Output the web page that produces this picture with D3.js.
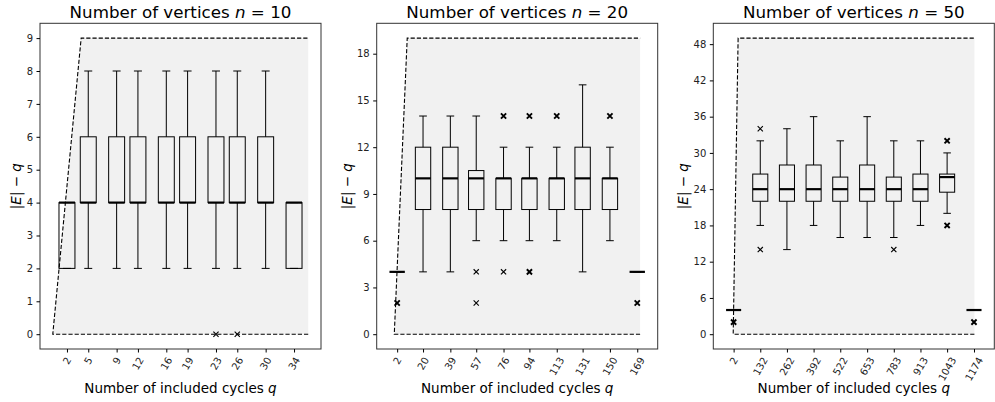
<!DOCTYPE html>
<html><head><meta charset="utf-8">
<script src="https://cdn.jsdelivr.net/npm/d3@7"></script>
<style>body{margin:0;background:#fff}svg{display:block;font-family:"DejaVu Sans",sans-serif}</style>
</head><body><svg id="c" width="995" height="402"></svg>
<script>
// ---------- data ----------
const vertexCounts = [10, 20, 50];

const qCats1 = [2, 5, 9, 12, 16, 19, 23, 26, 30, 34];
const qCats2 = [2, 20, 39, 57, 76, 94, 113, 131, 150, 169];
const qCats3 = [2, 132, 262, 392, 522, 653, 783, 913, 1043, 1174];

// [whisker low, Q1, median, Q3, whisker high]
const stats1 = [
  [2, 2, 4, 4, 4], [2, 4, 4, 6, 8], [2, 4, 4, 6, 8], [2, 4, 4, 6, 8], [2, 4, 4, 6, 8],
  [2, 4, 4, 6, 8], [2, 4, 4, 6, 8], [2, 4, 4, 6, 8], [2, 4, 4, 6, 8], [2, 2, 4, 4, 4]
];
const stats2 = [
  [4, 4, 4, 4, 4], [4, 8, 10, 12, 14], [4, 8, 10, 12, 14], [6, 8, 10, 10.5, 14], [6, 8, 10, 10, 12],
  [6, 8, 10, 10, 12], [6, 8, 10, 10, 12], [4, 8, 10, 12, 16], [6, 8, 10, 10, 12], [4, 4, 4, 4, 4]
];
const stats3 = [
  [4, 4, 4, 4, 4], [18, 22, 24, 26.5, 32], [14, 22, 24, 28, 34], [18, 22, 24, 28, 36], [16, 22, 24, 26, 32],
  [16, 22, 24, 28, 36], [16, 22, 24, 26, 32], [18, 22, 24, 26.5, 32], [20, 23.5, 26, 26.5, 30], [4, 4, 4, 4, 4]
];

// outliers: [value, number of coinciding samples]
const outliers1 = [[], [], [], [], [], [], [[0, 1]], [[0, 1]], [], []];
const outliers2 = [[[2, 3]], [], [], [[4, 1], [2, 1]], [[14, 3], [4, 1]], [[14, 3], [4, 2]], [[14, 3]], [], [[14, 3]], [[2, 3]]];
const outliers3 = [[[2, 3]], [[34, 1], [14, 1]], [], [], [], [], [[14, 1]], [], [[32, 2], [18, 2]], [[2, 3]]];

const yTicks1 = [0, 1, 2, 3, 4, 5, 6, 7, 8, 9];
const yTicks2 = [0, 3, 6, 9, 12, 15, 18];
const yTicks3 = [0, 6, 12, 18, 24, 30, 36, 42, 48];

// feasible region: (0,0) -> (corner, n-1) -> (qMax, n-1) -> (qMax, 0)
const boundCorner = [4, 9, 24];
const boundMaxQ = [36, 171, 1176];

// ---------- drawing ----------
const panels = [
  {n: vertexCounts[0], cats: qCats1, stats: stats1, outl: outliers1, yTicks: yTicks1, corner: boundCorner[0], qMax: boundMaxQ[0]},
  {n: vertexCounts[1], cats: qCats2, stats: stats2, outl: outliers2, yTicks: yTicks2, corner: boundCorner[1], qMax: boundMaxQ[1]},
  {n: vertexCounts[2], cats: qCats3, stats: stats3, outl: outliers3, yTicks: yTicks3, corner: boundCorner[2], qMax: boundMaxQ[2]}
];

const svg = d3.select('#c');
const frameLefts = [40, 376.7, 713.3];
const frameW = 281, frameTop = 23.3, frameBottom = 349;
const tickFont = 10, labelFont = 13.5, titleFont = 16.7;
const rot = 60;

panels.forEach((p, i) => {
  const g = svg.append('g');
  const left = frameLefts[i], right = left + frameW;
  const bw = 0.0625 * p.qMax;
  const lo = Math.min(0, d3.min(p.cats) - bw / 2);
  const hi = Math.max(p.qMax, d3.max(p.cats) + bw / 2);
  const m = 0.05 * (hi - lo);
  const x = d3.scaleLinear().domain([lo - m, hi + m]).range([left, right]);
  const top = p.n - 1;
  const y = d3.scaleLinear().domain([-0.05 * top, 1.05 * top]).range([frameBottom, frameTop]);
  const line = d3.line().x(d => x(d[0])).y(d => y(d[1]));

  // feasible region
  g.append('path')
    .attr('d', line([[0, 0], [p.corner, top], [p.qMax, top], [p.qMax, 0]]) + 'Z')
    .attr('fill', '#f1f1f1').attr('stroke', 'none');
  g.append('path')
    .attr('d', line([[p.qMax, 0], [0, 0], [p.corner, top], [p.qMax, top]]))
    .attr('fill', 'none').attr('stroke', '#000').attr('stroke-width', 1.1)
    .attr('stroke-dasharray', '4.2,2');

  // boxes
  p.cats.forEach((c, j) => {
    const [wl, q1, med, q3, wh] = p.stats[j];
    const bx0 = x(c - bw / 2), bx1 = x(c + bw / 2), cx = x(c);
    const cx0 = x(c - bw / 4), cx1 = x(c + bw / 4);
    const bg = g.append('g').attr('stroke', '#000').attr('fill', 'none');
    bg.append('line').attr('x1', cx).attr('x2', cx).attr('y1', y(q1)).attr('y2', y(wl)).attr('stroke-width', 1);
    bg.append('line').attr('x1', cx).attr('x2', cx).attr('y1', y(q3)).attr('y2', y(wh)).attr('stroke-width', 1);
    bg.append('line').attr('x1', cx0).attr('x2', cx1).attr('y1', y(wl)).attr('y2', y(wl)).attr('stroke-width', 1);
    bg.append('line').attr('x1', cx0).attr('x2', cx1).attr('y1', y(wh)).attr('y2', y(wh)).attr('stroke-width', 1);
    bg.append('rect').attr('x', bx0).attr('width', bx1 - bx0)
      .attr('y', y(q3)).attr('height', Math.max(0, y(q1) - y(q3))).attr('stroke-width', 1);
    bg.append('line').attr('x1', bx0).attr('x2', bx1).attr('y1', y(med)).attr('y2', y(med)).attr('stroke-width', 2.2);
    p.outl[j].forEach(([v, cnt]) => {
      const ox = cx, oy = y(v), s = 2.6;
      bg.append('path')
        .attr('d', `M${ox - s},${oy - s}L${ox + s},${oy + s}M${ox - s},${oy + s}L${ox + s},${oy - s}`)
        .attr('stroke-width', cnt > 1 ? 1.9 : 1.1);
    });
  });

  // frame
  g.append('rect').attr('x', left).attr('y', frameTop).attr('width', frameW)
    .attr('height', frameBottom - frameTop).attr('fill', 'none').attr('stroke', '#333').attr('stroke-width', 1);

  // y axis
  const ya = g.append('g').attr('transform', `translate(${left},0)`)
    .call(d3.axisLeft(y).tickValues(p.yTicks).tickSize(3.5).tickPadding(3.5));
  ya.select('.domain').remove();
  ya.selectAll('.tick line').attr('stroke', '#000');
  ya.selectAll('.tick text').attr('font-size', tickFont).attr('font-family', '"DejaVu Sans"').attr('fill', '#222');
  let maxW = 0;
  ya.selectAll('.tick text').each(function () { maxW = Math.max(maxW, this.getComputedTextLength()); });

  // x axis
  const xa = g.append('g').attr('transform', `translate(0,${frameBottom})`)
    .call(d3.axisBottom(x).tickValues(p.cats).tickSize(3.5).tickFormat(''));
  xa.select('.domain').remove();
  xa.selectAll('.tick line').attr('stroke', '#000');
  const th = rot * Math.PI / 180;
  p.cats.forEach(c => {
    const t = g.append('text').text(String(c)).attr('font-size', tickFont).attr('fill', '#222')
      .attr('text-anchor', 'middle').attr('dy', '0.36em');
    const w = t.node().getComputedTextLength(), h = tickFont * 0.73;
    const H = w * Math.sin(th) + h * Math.cos(th);
    t.attr('transform', `translate(${x(c)},${frameBottom + 7 + H / 2}) rotate(${-rot})`);
  });

  // titles
  const cxm = (left + right) / 2;
  const tt = g.append('text').attr('x', cxm).attr('y', 18.3).attr('text-anchor', 'middle')
    .attr('font-size', titleFont).attr('fill', '#000');
  tt.append('tspan').text('Number of vertices ');
  tt.append('tspan').attr('font-style', 'italic').text('n');
  tt.append('tspan').text(' = ' + p.n);

  const xl = g.append('text').attr('x', cxm).attr('y', 393).attr('text-anchor', 'middle')
    .attr('font-size', labelFont).attr('fill', '#000');
  xl.append('tspan').text('Number of included cycles ');
  xl.append('tspan').attr('font-style', 'italic').text('q');

  const yl = g.append('text').attr('text-anchor', 'middle').attr('dy', '0.35em')
    .attr('transform', `translate(${left - 7 - maxW - 10},${(frameTop + frameBottom) / 2}) rotate(-90)`)
    .attr('font-size', labelFont).attr('fill', '#000');
  yl.append('tspan').text('|');
  yl.append('tspan').attr('font-style', 'italic').text('E');
  yl.append('tspan').text('| − ');
  yl.append('tspan').attr('font-style', 'italic').text('q');
});
</script>
</body></html>
